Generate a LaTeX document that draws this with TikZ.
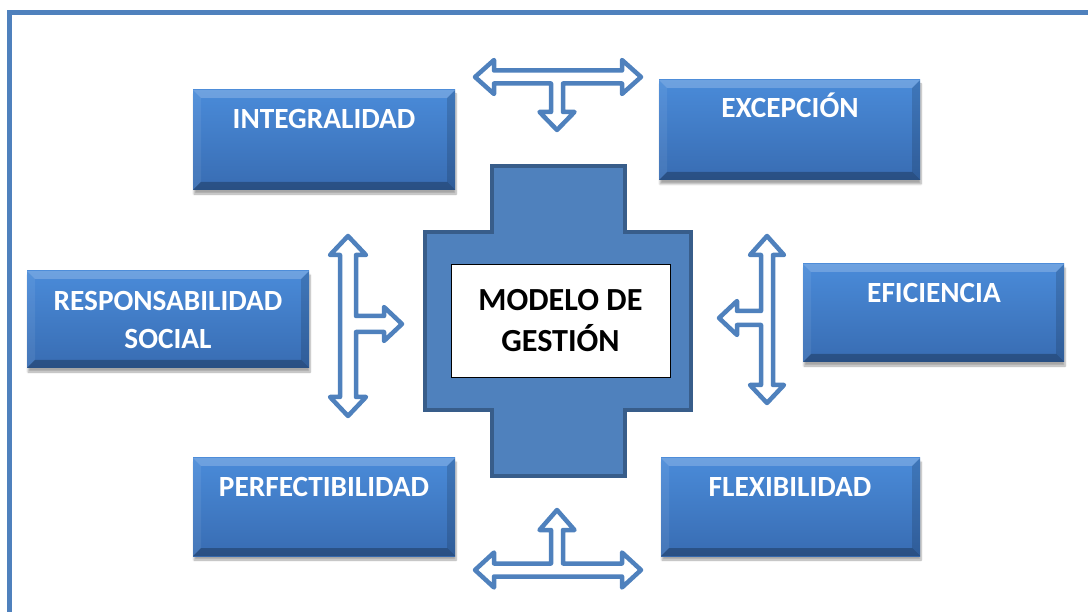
\documentclass[tikz,border=0pt]{standalone}
\usepackage{fontspec}
\setmainfont{Carlito}
\usetikzlibrary{shadows.blur}
\definecolor{frameblue}{RGB}{79,129,189}
\definecolor{crossline}{RGB}{56,93,138}
\definecolor{boxtop}{RGB}{74,139,217}
\definecolor{boxbot}{RGB}{56,108,178}
\begin{document}
\begin{tikzpicture}[x=1pt,y=-1pt,
  frameline/.style={draw=frameblue, line width=4.5pt},
  bluebox/.style={rectangle, inner sep=0pt, top color=boxtop, bottom color=boxbot,
    blur shadow={shadow xshift=1pt, shadow yshift=-4pt, shadow blur steps=6, shadow opacity=35},
    path picture={
      \fill[white, opacity=0.20] (path picture bounding box.north west) -- (path picture bounding box.north east) -- ++(-8pt,-8pt) -- ([shift={(8pt,-8pt)}]path picture bounding box.north west) -- cycle;
      \fill[white, opacity=0.07] (path picture bounding box.north west) -- (path picture bounding box.south west) -- ++(8pt,8pt) -- ([shift={(8pt,-8pt)}]path picture bounding box.north west) -- cycle;
      \fill[black, opacity=0.26] (path picture bounding box.south west) -- (path picture bounding box.south east) -- ++(-8pt,8pt) -- ([shift={(8pt,8pt)}]path picture bounding box.south west) -- cycle;
      \fill[black, opacity=0.14] (path picture bounding box.north east) -- (path picture bounding box.south east) -- ++(-8pt,8pt) -- ([shift={(-8pt,-8pt)}]path picture bounding box.north east) -- cycle;
    }},
  boxtext/.style={text=white, font=\bfseries\fontsize{29.3}{38}\selectfont, align=center, inner sep=0pt},
  outlinearrow/.style={draw=frameblue, line width=4.5pt, fill=white, line join=round},
  crossshape/.style={draw=crossline, line width=4pt, fill=frameblue},
  modelbox/.style={draw=black, line width=0.8pt, fill=white, inner sep=0pt,
    font=\bfseries\fontsize{32.2}{41}\selectfont, align=center}
]
\useasboundingbox (0,0) rectangle (1088,612);
\begin{scope}
\clip (0,0) rectangle (1088,612);
\draw[frameline] (9.5,12.5) rectangle (1120,650);
\end{scope}

% boxes
\node[bluebox, minimum width=262pt, minimum height=100pt] (integ) at (324,140) {};
\node[bluebox, minimum width=261pt, minimum height=100pt] (excep) at (789.5,130) {};
\node[bluebox, minimum width=282pt, minimum height=97pt] (resp) at (168,319.5) {};
\node[bluebox, minimum width=261pt, minimum height=98pt] (efic) at (933.5,313) {};
\node[bluebox, minimum width=262pt, minimum height=98pt] (perf) at (324,507) {};
\node[bluebox, minimum width=259pt, minimum height=98pt] (flex) at (790.5,507) {};

\node[boxtext, anchor=base] (tinteg) at (324,128.5) {INTEGRALIDAD};
\node[boxtext, anchor=base] (texcep) at (790,117.5) {EXCEPCIÓN};
\node[boxtext] (tresp) at (168,319.5) {RESPONSABILIDAD\\SOCIAL};
\node[boxtext, anchor=base] (tefic) at (934,302.5) {EFICIENCIA};
\node[boxtext, anchor=base] (tperf) at (324,496.5) {PERFECTIBILIDAD};
\node[boxtext, anchor=base] (tflex) at (790,496.5) {FLEXIBILIDAD};

% central cross
\draw[crossshape] (492,166) -- (625,166) -- (625,232) -- (691,232) -- (691,410) -- (625,410)
  -- (625,476) -- (492,476) -- (492,410) -- (425,410) -- (425,232) -- (492,232) -- cycle;
\node[modelbox, minimum width=219pt, minimum height=113pt] (model) at (560.5,320.5) {MODELO DE\\GESTIÓN};

% top arrow
\draw[outlinearrow] (475,77) -- (494,60) -- (494,70.5) -- (622,70.5) -- (622,60) -- (641,77)
  -- (622,94) -- (622,83.5) -- (563,83.5) -- (563,112) -- (574.5,112) -- (557,130) -- (539.5,112)
  -- (551,112) -- (551,83.5) -- (494,83.5) -- (494,94) -- cycle;
% bottom arrow
\draw[outlinearrow] (475,570) -- (494,552.5) -- (494,563.5) -- (551,563.5) -- (551,530) -- (539.5,530)
  -- (557,510) -- (574.5,530) -- (563,530) -- (563,563.5) -- (622,563.5) -- (622,552.5) -- (641,570)
  -- (622,587.5) -- (622,576.5) -- (494,576.5) -- (494,587.5) -- cycle;
% left arrow
\draw[outlinearrow] (348,236) -- (366,255) -- (356,255) -- (356,316) -- (384,316) -- (384,307)
  -- (402,324) -- (384,341) -- (384,332) -- (356,332) -- (356,397) -- (366,397) -- (348,416)
  -- (330,397) -- (340,397) -- (340,255) -- (330,255) -- cycle;
% right arrow
\draw[outlinearrow] (767,236) -- (784,255) -- (773,255) -- (773,385) -- (784,385) -- (767,403)
  -- (750,385) -- (761,385) -- (761,325) -- (737,325) -- (737,335) -- (719,318) -- (737,301)
  -- (737,311) -- (761,311) -- (761,255) -- (750,255) -- cycle;
\end{tikzpicture}
\end{document}
